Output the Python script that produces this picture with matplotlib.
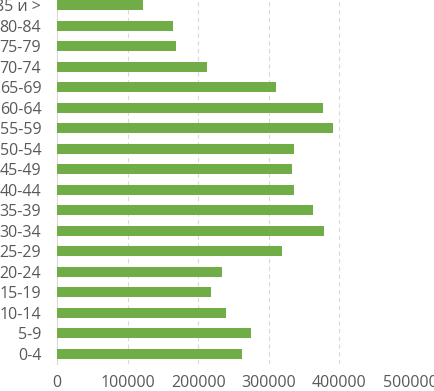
import matplotlib
matplotlib.use('Agg')
import matplotlib.pyplot as plt

# возрастные группы (снизу вверх) и численность
age_groups = ['0-4', '5-9', '10-14', '15-19', '20-24', '25-29', '30-34', '35-39',
              '40-44', '45-49', '50-54', '55-59', '60-64', '65-69', '70-74',
              '75-79', '80-84', '85 и >']
population = [262000, 275300, 238500, 217700, 232800, 319200, 378700, 362600,
              336200, 332900, 336200, 391000, 376800, 310200, 211600,
              167700, 164000, 121000]
x_ticks = [0, 100000, 200000, 300000, 400000, 500000]

plt.rcParams['font.family'] = ['Open Sans', 'DejaVu Sans']

fig = plt.figure(figsize=(4.35, 3.91), dpi=100)
ax = fig.add_axes([0.1317, 0.069, 0.9425 - 0.1317, 1.0128 - 0.069])

ax.barh(range(len(age_groups)), population, height=0.5, color='#70AD47', zorder=3)

ax.set_yticks(range(len(age_groups)))
ax.set_yticklabels(age_groups)
ax.set_xticks(x_ticks)
ax.set_xticklabels([str(t) for t in x_ticks])
ax.set_xlim(0, 500000)
ax.set_ylim(-0.5, len(age_groups) - 0.5)

ax.grid(axis='x', color='#D9D9D9', linestyle=(0, (4, 3)), linewidth=0.8, zorder=0)
for s in ['top', 'right', 'bottom']:
    ax.spines[s].set_visible(False)
ax.spines['left'].set_color('#D9D9D9')
ax.tick_params(axis='both', length=0, labelsize=11.5, labelcolor='#595959')
ax.tick_params(axis='y', pad=11.5)
ax.tick_params(axis='x', pad=8)

fig.savefig('out.png', dpi=100)
